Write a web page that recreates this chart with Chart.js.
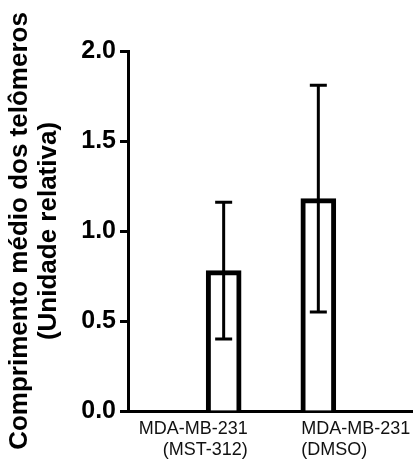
<!DOCTYPE html>
<html>
<head>
<meta charset="utf-8">
<script src="https://cdn.jsdelivr.net/npm/chart.js@4/dist/chart.umd.min.js"></script>
<style>
  html, body { margin: 0; padding: 0; background: #fff; }
  #wrap { width: 413px; height: 459px; }
</style>
</head>
<body>
<div id="wrap"><canvas id="telomereChart"></canvas></div>
<script>
// blank slots at both ends keep the bars away from the axes
const categories = ['', 'MDA-MB-231|(MST-312)', 'MDA-MB-231|(DMSO)', ''];
const meanValues = [null, 0.78, 1.18, null];
const errorValues = [null, 0.38, 0.63, null];
const yTicks = [0, 0.5, 1.0, 1.5, 2.0];
const yTitle = ['Comprimento médio dos telômeros', '(Unidade relativa)'];

// error bars drawn on top of the bars
const errorBars = {
    id: 'errorBars',
    afterDatasetsDraw(chart) {
        const { ctx, scales: { x, y } } = chart;
        ctx.save();
        ctx.strokeStyle = '#000';
        ctx.lineWidth = 3;
        meanValues.forEach((v, i) => {
            if (v === null) return;
            const cx = x.getPixelForValue(i);
            const top = y.getPixelForValue(v + errorValues[i]);
            const bottom = y.getPixelForValue(v - errorValues[i]);
            ctx.beginPath();
            ctx.moveTo(cx, top);
            ctx.lineTo(cx, bottom);
            ctx.moveTo(cx - 8.5, top);
            ctx.lineTo(cx + 8.5, top);
            ctx.moveTo(cx - 8.5, bottom);
            ctx.lineTo(cx + 8.5, bottom);
            ctx.stroke();
        });
        ctx.restore();
    }
};

// two-line category labels, first one right aligned, second left aligned
const categoryLabels = {
    id: 'categoryLabels',
    afterDraw(chart) {
        const { ctx, scales: { x }, chartArea } = chart;
        ctx.save();
        ctx.fillStyle = '#111';
        ctx.font = '18px "Liberation Sans", Arial, sans-serif';
        ctx.textBaseline = 'alphabetic';
        let n = 0;
        categories.forEach((label, i) => {
            if (!label) return;
            const cx = x.getPixelForValue(i);
            const lines = label.split('|');
            if (n === 0) {
                ctx.textAlign = 'right';
                lines.forEach((t, k) => ctx.fillText(t, cx + 24, chartArea.bottom + 23 + k * 21));
            } else {
                ctx.textAlign = 'left';
                lines.forEach((t, k) => ctx.fillText(t, cx - 17, chartArea.bottom + 23 + k * 21));
            }
            n++;
        });
        ctx.restore();
    }
};

new Chart(document.getElementById('telomereChart'), {
    type: 'bar',
    data: {
        labels: categories,
        datasets: [{
            data: meanValues,
            backgroundColor: '#fff',
            borderColor: '#000',
            borderWidth: 5,
            borderSkipped: 'start',
            barThickness: 35
        }]
    },
    options: {
        responsive: true,
        maintainAspectRatio: false,
        animation: false,
        layout: { padding: { top: 51, right: 0, bottom: 36, left: 0 } },
        plugins: {
            legend: { display: false },
            tooltip: { enabled: false }
        },
        scales: {
            x: {
                offset: false,
                border: { color: '#000', width: 3 },
                grid: {
                    drawOnChartArea: false,
                    tickLength: 12,
                    tickWidth: 3,
                    color: (c) => c.index === 0 ? '#000' : 'rgba(0,0,0,0)'
                },
                ticks: { display: false }
            },
            y: {
                min: 0,
                max: 2,
                afterBuildTicks: (scale) => {
                    scale.ticks = yTicks.map(v => ({ value: v }));
                },
                border: { color: '#000', width: 3 },
                grid: {
                    drawOnChartArea: false,
                    tickLength: 9,
                    tickWidth: 3,
                    tickColor: '#000'
                },
                ticks: {
                    padding: 4,
                    color: '#000',
                    font: { family: '"Liberation Sans", Arial, sans-serif', size: 25, weight: 'bold' },
                    callback: (v) => Number(v).toFixed(1)
                },
                title: {
                    display: true,
                    text: yTitle,
                    color: '#000',
                    font: { family: '"Liberation Sans", Arial, sans-serif', size: 26, weight: 'bold', lineHeight: 1.12 },
                    padding: { top: 5, bottom: 14 }
                }
            }
        }
    },
    plugins: [errorBars, categoryLabels]
});
</script>
</body>
</html>
